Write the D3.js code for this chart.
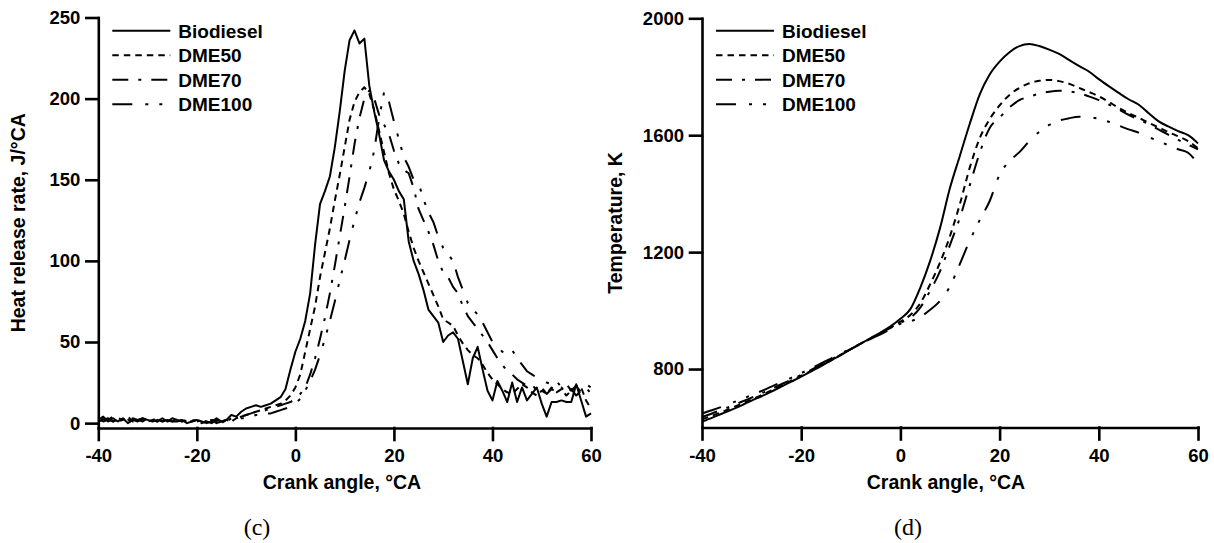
<!DOCTYPE html>
<html>
<head>
<meta charset="utf-8">
<script src="https://cdn.jsdelivr.net/npm/d3@7"></script>
<style>
    body { margin: 0; background: #fff; }
    svg { display: block; }
    .axis path, .axis line { stroke: #000; stroke-width: 2.6; stroke-linecap: square; }
    .axis text { font: bold 18.5px "Liberation Sans", Arial, sans-serif; fill: #000; }
    .title { font: bold 19.5px "Liberation Sans", Arial, sans-serif; fill: #000; }
    .legend text { font: bold 19px "Liberation Sans", Arial, sans-serif; fill: #000; }
    .caption { font: 24px "Liberation Serif", "Times New Roman", serif; fill: #000; }
</style>
</head>
<body>
<svg id="chart" width="1214" height="543"></svg>
<script>
// Series and ticks
const seriesNames = ["Biodiesel", "DME50", "DME70", "DME100"];
const angleTicks = [-40, -20, 0, 20, 40, 60];
const hrrTicks = [0, 50, 100, 150, 200, 250];
const tempTicks = [800, 1200, 1600, 2000];

// Heat release rate, J/°CA, sampled every 1 °CA from -40 to 60
const hrrAngles = d3.range(-40, 61, 1);
const hrrBiodiesel = [
    2, 4, 1, 3, 1, 3, 0, 2, 1, 3,
    2, 1, 2, 1, 2, 1, 1, 2, 0, 1,
    2, 1, 0, 1, 3, 1, 2, 5, 4, 7,
    9, 10, 11, 10, 11, 12, 14, 16, 21, 33,
    44, 52, 63, 80, 110, 135, 143, 152, 170, 192,
    217, 236, 242, 234, 237, 208, 192, 178, 162, 155,
    150, 143, 138, 112, 100, 92, 82, 70, 66, 62,
    50, 54, 56, 52, 38, 24, 40, 47, 33, 20,
    14, 26, 20, 13, 25, 13, 22, 14, 18, 22,
    12, 4, 13, 13, 14, 13, 13, 24, 14, 4,
    6
];
const hrrDME50 = [
    1, 3, 2, 1, 3, 2, 4, 1, 2, 3,
    1, 2, 3, 1, 2, 1, 3, 1, 2, 1,
    2, 0, 1, 2, 1, 0, 2, 1, 3, 4,
    5, 6, 7, 8, 9, 10, 11, 12, 14, 17,
    22, 30, 44, 58, 72, 90, 105, 120, 137, 153,
    170, 187, 198, 204, 207, 203, 193, 180, 167, 154,
    144, 137, 129, 118, 108, 100, 93, 86, 79, 72,
    64, 62, 60, 54, 49, 45, 42, 40, 36, 31,
    27, 24, 21, 19, 18, 21, 24, 22, 19, 17,
    20, 18, 22, 19, 21, 17, 20, 23, 22, 14,
    9
];
const hrrDME70 = [
    3, 1, 2, 4, 1, 2, 1, 3, 2, 1,
    3, 2, 1, 2, 1, 3, 2, 1, 1, 2,
    1, 2, 1, 0, 2, 1, 1, 3, 2, 4,
    5, 6, 7, 7, 8, 9, 10, 11, 12, 13,
    15, 18, 22, 30, 40, 52, 65, 80, 97, 115,
    133, 152, 172, 188, 200, 205, 200, 190, 184, 178,
    168, 160, 156, 154, 145, 132, 125, 118, 110, 100,
    93, 90, 84, 80, 72, 66, 62, 58, 54, 50,
    45, 40, 36, 32, 30, 27, 25, 23, 24, 20,
    22, 18, 21, 19, 22, 18, 21, 17, 20, 22,
    18
];
const hrrDME100 = [
    1, 2, 3, 1, 2, 0, 2, 1, 3, 2,
    1, 2, 1, 3, 1, 2, 1, 2, 1, 0,
    1, 2, 1, 2, 0, 1, 2, 1, 2, 3,
    3, 4, 5, 5, 6, 6, 7, 8, 9, 10,
    12, 15, 20, 26, 33, 42, 52, 63, 75, 88,
    100, 113, 125, 136, 145, 155, 168, 188, 204, 198,
    186, 175, 164, 158, 150, 148, 138, 130, 124, 115,
    108, 104, 100, 90, 82, 74, 70, 67, 62, 56,
    50, 47, 44, 43, 45, 40, 36, 32, 30, 28,
    27, 25, 24, 26, 22, 24, 20, 23, 19, 24,
    22
];

// In-cylinder temperature, K, sampled every 2 °CA from -40 to 60
const tempAngles = d3.range(-40, 61, 2);
const tempBiodiesel = [
    620, 633, 647, 661, 676, 692, 707, 723, 740, 757,
    774, 792, 810, 829, 848, 868, 887, 906, 925, 946,
    972, 1005, 1078, 1170, 1283, 1420, 1530, 1640, 1740, 1808,
    1852, 1884, 1905, 1912, 1905, 1893, 1878, 1858, 1837, 1818,
    1792, 1768, 1745, 1723, 1705, 1676, 1648, 1630, 1614, 1600,
    1572
];
const tempDME50 = [
    628, 640, 653, 667, 681, 696, 711, 727, 743, 760,
    777, 794, 812, 830, 849, 868, 887, 905, 923, 942,
    962, 985, 1025, 1090, 1165, 1255, 1365, 1490, 1590, 1655,
    1702, 1738, 1762, 1778, 1786, 1789, 1785, 1776, 1762, 1748,
    1733, 1714, 1694, 1676, 1660, 1643, 1627, 1611, 1596, 1580,
    1555
];
const tempDME70 = [
    636, 648, 661, 674, 688, 702, 717, 732, 748, 764,
    780, 797, 814, 832, 850, 868, 886, 904, 922, 941,
    958, 975, 1010, 1068, 1135, 1225, 1318, 1430, 1540, 1625,
    1660, 1695, 1720, 1732, 1742, 1749, 1752, 1750, 1744, 1733,
    1720, 1705, 1688, 1670, 1654, 1638, 1620, 1602, 1584, 1568,
    1552
];
const tempDME100 = [
    648, 659, 671, 684, 697, 711, 725, 740, 755, 770,
    786, 802, 819, 836, 853, 870, 887, 903, 919, 936,
    955, 963, 978, 1003, 1033, 1083, 1160, 1240, 1310, 1375,
    1465, 1512, 1542, 1580, 1612, 1635, 1650, 1658, 1663, 1662,
    1656, 1646, 1633, 1620, 1609, 1594, 1580, 1566, 1552, 1540,
    1502
];

// Line styles, one per series
const dashes = ["none", "6.5,5", "16,10,3,10", "20,13,3,11,3,11"];

// Plain ASCII numbers, no thousands separator
const plainNumber = (d) => String(d);

const svg = d3.select("#chart");

const drawPanel = (opts) => {
    const x = d3.scaleLinear().domain([-40, 60]).range(opts.xRange);
    const y = d3.scaleLinear().domain(opts.yDomain).range(opts.yRange);
    const g = svg.append("g");

    // Curves
    const line = d3.line()
        .x((d) => x(d[0]))
        .y((d) => y(d[1]))
        .curve(opts.curve);

    opts.series.forEach((values, i) => {
        g.append("path")
            .datum(opts.angles.map((a, j) => [a, values[j]]))
            .attr("fill", "none")
            .attr("stroke", "#000")
            .attr("stroke-width", 2)
            .attr("stroke-linejoin", "round")
            .attr("stroke-dasharray", dashes[i])
            .attr("d", line);
    });

    // Axes
    g.append("g")
        .attr("class", "axis")
        .attr("transform", `translate(0, ${opts.yRange[0]})`)
        .call(d3.axisBottom(x).tickValues(angleTicks).tickFormat(plainNumber)
            .tickSize(12).tickSizeOuter(0).tickPadding(9))
        .call((a) => a.selectAll(".tick line").attr("stroke-linecap", "butt"));

    g.append("g")
        .attr("class", "axis")
        .attr("transform", `translate(${opts.xRange[0]}, 0)`)
        .call(d3.axisLeft(y).tickValues(opts.yTicks).tickFormat(plainNumber)
            .tickSize(12).tickSizeOuter(0).tickPadding(6))
        .call((a) => a.selectAll(".tick line").attr("stroke-linecap", "butt"));

    // Titles
    g.append("text")
        .attr("class", "title")
        .attr("x", opts.xTitleX)
        .attr("y", 489)
        .attr("text-anchor", "middle")
        .text("Crank angle, °CA");

    g.append("text")
        .attr("class", "title")
        .attr("transform", `translate(${opts.yTitleX}, ${(opts.yRange[0] + opts.yRange[1]) / 2}) rotate(-90)`)
        .attr("text-anchor", "middle")
        .text(opts.yTitle);

    g.append("text")
        .attr("class", "caption")
        .attr("x", opts.captionX)
        .attr("y", 535)
        .attr("text-anchor", "middle")
        .text(opts.caption);

    // Legend
    const legend = g.append("g")
        .attr("class", "legend")
        .attr("transform", `translate(${opts.xRange[0] + 14}, 30.7)`);

    seriesNames.forEach((name, i) => {
        legend.append("line")
            .attr("x1", 0).attr("x2", 58)
            .attr("y1", i * 24.5).attr("y2", i * 24.5)
            .attr("stroke", "#000")
            .attr("stroke-width", 2)
            .attr("stroke-dasharray", dashes[i]);
        legend.append("text")
            .attr("x", 66)
            .attr("y", i * 24.5)
            .attr("dy", "0.36em")
            .text(name);
    });
};

drawPanel({
    xRange: [98.3, 591],
    yDomain: [-3, 250],
    yRange: [428, 17.5],
    yTicks: hrrTicks,
    angles: hrrAngles,
    series: [hrrBiodiesel, hrrDME50, hrrDME70, hrrDME100],
    curve: d3.curveLinear,
    yTitle: "Heat release rate, J/°CA",
    yTitleX: 25,
    xTitleX: 342,
    caption: "(c)",
    captionX: 257,
});

drawPanel({
    xRange: [702, 1198],
    yDomain: [600, 2000],
    yRange: [427.5, 18.3],
    yTicks: tempTicks,
    angles: tempAngles,
    series: [tempBiodiesel, tempDME50, tempDME70, tempDME100],
    curve: d3.curveMonotoneX,
    yTitle: "Temperature, K",
    yTitleX: 622,
    xTitleX: 946,
    caption: "(d)",
    captionX: 908,
});
</script>
</body>
</html>
